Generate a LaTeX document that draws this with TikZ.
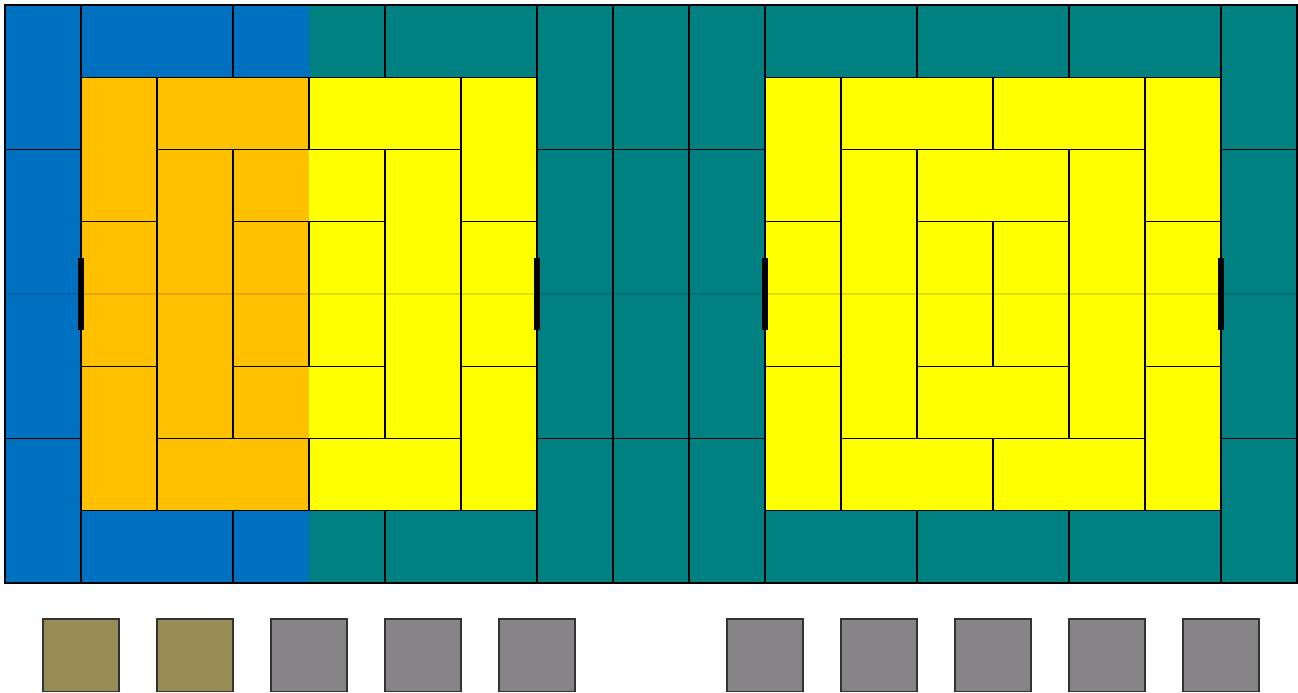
\documentclass[tikz,border=0pt]{standalone}
\usepackage{xcolor}
\usepackage{tikz}

\definecolor{boardblue}{HTML}{0070C0}
\definecolor{boardorange}{HTML}{FFC000}
\definecolor{boardyellow}{HTML}{FFFF00}
\definecolor{boardteal}{HTML}{008080}
\definecolor{pieceolive}{HTML}{978C54}
\definecolor{piecegray}{HTML}{868487}

\begin{document}
\begin{tikzpicture}[
    x=0.76cm, y=-0.7225cm,
    tile/.style={draw=black, line width=0.35pt},
    seam/.style={draw=black, opacity=0.12, line width=0.3pt},
    gate/.style={draw=black, line width=1.5pt},
    piece/.style={draw=black!80, line width=0.4pt}
]
\useasboundingbox (-0.0658,-0.0692) rectangle (17.013,9.522);

% board colours
\fill[boardteal] (0,0) rectangle (17,8);
\fill[boardblue] (0,0) rectangle (1,8) (1,0) rectangle (4,1) (1,7) rectangle (4,8);
\fill[boardorange] (1,1) rectangle (4,7);
\fill[boardyellow] (4,1) rectangle (7,7) (10,1) rectangle (16,7);

\draw[seam] (0,4) -- (17,4);

% outer columns and rows
\foreach \c in {0,7,8,9,16} {
    \draw[tile] (\c,0) rectangle ++(1,2);
    \draw[tile] (\c,2) rectangle ++(1,4);
    \draw[tile] (\c,6) rectangle ++(1,2);
}
\foreach \c in {1,3,5,10,12,14} {
    \draw[tile] (\c,0) rectangle ++(2,1);
    \draw[tile] (\c,7) rectangle ++(2,1);
}

% inner blocks
\foreach \dx in {1,10} {
    \foreach \x/\y/\w/\h in {0/0/1/2, 1/0/2/1, 3/0/2/1, 5/0/1/2,
                             2/1/2/1, 1/1/1/4, 4/1/1/4,
                             0/2/1/2, 2/2/1/2, 3/2/1/2, 5/2/1/2,
                             2/4/2/1, 0/4/1/2, 5/4/1/2,
                             1/5/2/1, 3/5/2/1}
        \draw[tile] (\dx+\x,1+\y) rectangle ++(\w,\h);
}

\draw[tile, line width=0.5pt] (0,0) rectangle (17,8);

% gates
\foreach \c in {1,7,10,16}
    \draw[gate] (\c,3.5) -- (\c,4.5);

% pieces
\foreach \i in {0,...,4} {
    \ifnum\i<2
        \draw[piece, fill=pieceolive] (0.5+1.5*\i,8.5) rectangle ++(1,1);
    \else
        \draw[piece, fill=piecegray] (0.5+1.5*\i,8.5) rectangle ++(1,1);
    \fi
    \draw[piece, fill=piecegray] (9.5+1.5*\i,8.5) rectangle ++(1,1);
}
\end{tikzpicture}
\end{document}
